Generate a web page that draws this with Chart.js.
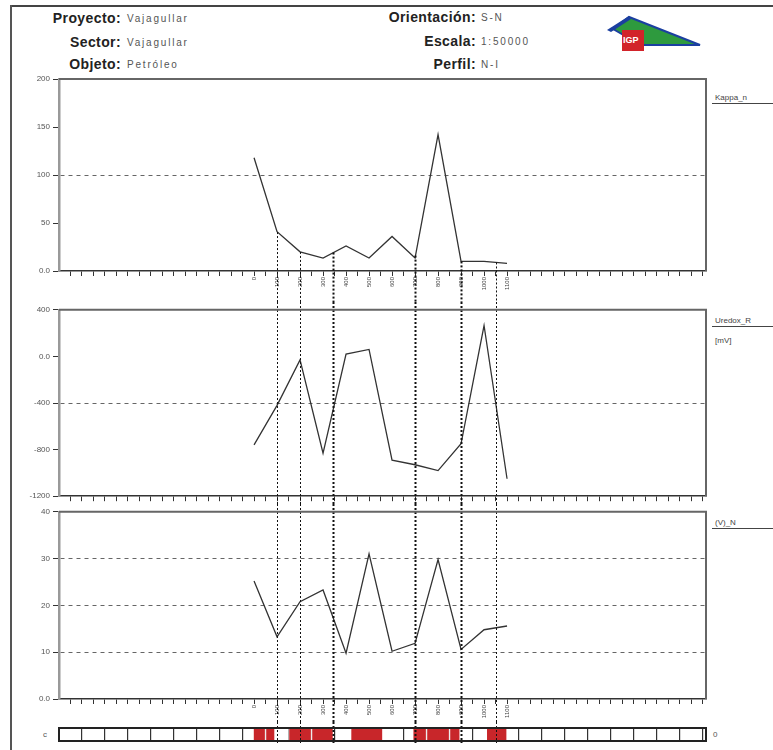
<!DOCTYPE html>
<html>
<head>
<meta charset="utf-8">
<script src="https://cdn.jsdelivr.net/npm/chart.js@4"></script>
<style>
  body { margin: 0; background: #fff; width: 773px; height: 750px; overflow: hidden; position: relative;
         font-family: "Liberation Sans", Arial, sans-serif; }
  canvas { position: absolute; left: 0; }
  .lab { position: absolute; font-weight: bold; font-size: 14px; color: #222; text-align: right; letter-spacing: 0.4px; line-height: 16px; }
  .val { position: absolute; font-size: 10px; color: #555; letter-spacing: 1.8px; line-height: 12px; }
  .side { position: absolute; left: 712px; width: 58px; font-size: 8px; color: #444; padding-left: 3px; line-height: 10px; }
  .ul { border-bottom: 1px solid #444; }
  .edge-top { position: absolute; left: 11px; top: 5px; width: 762px; height: 0; border-top: 2px solid #444; }
  .edge-left { position: absolute; left: 10px; top: 5px; width: 0; height: 745px; border-left: 2px solid #555; }
</style>
</head>
<body>
<div class="edge-top"></div>
<div class="edge-left"></div>

<div class="lab" style="left:0;width:121px;top:10px">Proyecto:</div>
<div class="val" style="left:127px;top:13px">Vajagullar</div>
<div class="lab" style="left:0;width:121px;top:34px">Sector:</div>
<div class="val" style="left:127px;top:37px">Vajagullar</div>
<div class="lab" style="left:0;width:121px;top:56px">Objeto:</div>
<div class="val" style="left:127px;top:59px">Petróleo</div>

<div class="lab" style="left:280px;width:196px;top:9px">Orientación:</div>
<div class="val" style="left:481px;top:12px">S-N</div>
<div class="lab" style="left:280px;width:196px;top:33px">Escala:</div>
<div class="val" style="left:481px;top:36px">1:50000</div>
<div class="lab" style="left:280px;width:196px;top:56px">Perfil:</div>
<div class="val" style="left:481px;top:59px">N-I</div>

<svg style="position:absolute;left:605px;top:10px" width="100" height="45" viewBox="0 0 100 45">
  <polygon points="8,19 24,7 95,35 36,35" fill="#2e9a3e" stroke="#1b3fa0" stroke-width="2"/>
  <polygon points="2,20 24,6 26,9 6,22" fill="#1b3fa0"/>
  <rect x="17" y="20" width="22" height="21" fill="#d2232a"/>
  <text x="18" y="33" font-size="9" font-weight="bold" fill="#fff" font-family="Liberation Sans">IGP</text>
</svg>

<div class="side ul" style="top:93px">Kappa_n</div>
<div class="side ul" style="top:316px">Uredox_R</div>
<div class="side" style="top:336px">[mV]</div>
<div class="side ul" style="top:518px">(V)_N</div>

<div class="val" style="left:43px;top:729px;font-size:8px">c</div>
<div class="val" style="left:713px;top:729px;font-size:8px">0</div>

<canvas id="c1" width="773" height="232" style="top:70px"></canvas>
<canvas id="c2" width="773" height="202" style="top:302px"></canvas>
<canvas id="c3" width="773" height="218" style="top:504px"></canvas>
<canvas id="c4" width="773" height="28" style="top:722px"></canvas>

<script>
// stations along the profile
const stations = ['0', '100', '200', '300', '400', '500', '600', '700', '800', '900', '1000', '1100']
const stationPos = [0, 1, 2, 3, 4, 5, 6, 7, 8, 9, 10, 11]

// series
const kappa = [118, 41, 20, 13.5, 26, 13.5, 36, 13.5, 142, 10, 10, 8]
const uredox = [-760, -420, -30, -830, 20, 60, -890, -930, -980, -750, 265, -1050]
const vn = [25.2, 13.3, 20.8, 23.3, 9.8, 31, 10.2, 11.9, 29.8, 10.6, 14.8, 15.6]

// y ticks per panel
const kappaTicks = [0, 50, 100, 150, 200]
const kappaLabels = ['0.0', '50', '100', '150', '200']
const uredoxTicks = [-1200, -800, -400, 0, 400]
const uredoxLabels = ['-1200', '-800', '-400', '0.0', '400']
const vnTicks = [0, 10, 20, 30, 40]
const vnLabels = ['0.0', '10', '20', '30', '40']

// anomaly markers and zones (station units)
const markerPos = [1, 2, 3.45, 7, 9, 10.5]
const redZones = [[-0.04, 0.5], [0.5, 0.91], [1.5, 2.5], [2.5, 3.45], [4.2, 5.6],
  [6.9, 7.5], [7.5, 8.5], [8.5, 8.96], [10.1, 11]]

const X_MIN = -8.48
const X_MAX = 19.65
const markerWidth = [1, 1, 2, 2, 2, 1]

const xTickVals = []
for (let v = -8; v <= 19.5; v += 0.5) xTickVals.push(v)
const cellVals = []
for (let v = -8.5; v <= 19.5; v += 1) cellVals.push(v)

const markerPlugin = {
  id: 'markers',
  afterDatasetsDraw(chart, args, opts) {
    if (!opts.show) return
    const { ctx } = chart
    const meta = chart.getDatasetMeta(0)
    ctx.save()
    markerPos.forEach((m, i) => {
      const px = Math.round(chart.scales.x.getPixelForValue(m)) + 0.5
      let top = 0
      if (opts.fromLine) {
        const pts = meta.data
        for (let k = 0; k < pts.length - 1; k++) {
          if (pts[k].x <= px && pts[k + 1].x >= px) {
            const t = (px - pts[k].x) / (pts[k + 1].x - pts[k].x)
            top = pts[k].y + t * (pts[k + 1].y - pts[k].y)
          }
        }
      }
      const bottom = opts.bottom ? chart.chartArea.bottom + 2 : chart.height
      ctx.lineWidth = markerWidth[i]
      ctx.setLineDash([2, 2])
      ctx.strokeStyle = '#111'
      ctx.beginPath()
      ctx.moveTo(px, top)
      ctx.lineTo(px, bottom)
      ctx.stroke()
    })
    ctx.restore()
  }
}

const framePlugin = {
  id: 'frame',
  afterDraw(chart, args, opts) {
    if (!opts.show) return
    const { ctx, chartArea: a } = chart
    ctx.save()
    ctx.strokeStyle = opts.color || '#555'
    ctx.lineWidth = opts.width || 2
    ctx.beginPath()
    if (opts.box) {
      ctx.rect(a.left, a.top, a.right - a.left, a.bottom - a.top)
    } else {
      ctx.moveTo(a.left, a.top)
      ctx.lineTo(a.right, a.top)
      ctx.lineTo(a.right, a.bottom)
    }
    ctx.stroke()
    ctx.restore()
  }
}

Chart.register(markerPlugin, framePlugin)

function makePanel(id, values, yTicks, yLabels, dashed, cfg) {
  const ctx = document.getElementById(id)
  return new Chart(ctx, {
    type: 'line',
    data: {
      datasets: [{
        data: stationPos.map((x, i) => ({ x: x, y: values[i] })),
        borderColor: '#333',
        borderWidth: 1.3,
        pointRadius: 0,
        tension: 0
      }]
    },
    options: {
      responsive: false,
      animation: false,
      layout: { padding: { left: 0, right: 67, top: cfg.padTop, bottom: 0 } },
      plugins: {
        legend: { display: false },
        tooltip: { enabled: false },
        markers: { show: true, fromLine: cfg.fromLine },
        frame: { show: true, color: '#666', width: 2 }
      },
      scales: {
        x: {
          type: 'linear',
          min: X_MIN,
          max: X_MAX,
          afterBuildTicks: axis => { axis.ticks = xTickVals.map(v => ({ value: v })) },
          afterFit: axis => { axis.height = cfg.xHeight },
          grid: { drawOnChartArea: false, tickLength: 5, tickColor: '#333', tickWidth: 1 },
          border: { color: '#333', width: 1.5 },
          ticks: {
            display: cfg.labels,
            autoSkip: false,
            minRotation: 90,
            maxRotation: 90,
            padding: 1,
            font: { size: 6, family: 'Liberation Sans' },
            color: '#444',
            callback: value => {
              const i = stationPos.indexOf(value)
              return i >= 0 ? stations[i] : ''
            }
          }
        },
        y: {
          min: yTicks[0],
          max: yTicks[yTicks.length - 1],
          afterBuildTicks: axis => { axis.ticks = yTicks.map(v => ({ value: v })) },
          afterFit: axis => { axis.width = 59 },
          grid: {
            color: c => dashed.includes(c.tick.value) ? '#666' : 'rgba(0,0,0,0)',
            tickColor: '#333',
            tickLength: 6,
            lineWidth: 1
          },
          border: { color: '#999', width: 2.5, dash: [4, 4] },
          ticks: {
            padding: 3,
            font: { size: 8, family: 'Liberation Sans' },
            color: '#555',
            callback: value => {
              const i = yTicks.indexOf(value)
              return i >= 0 ? yLabels[i] : ''
            }
          }
        }
      }
    }
  })
}

makePanel('c1', kappa, kappaTicks, kappaLabels, [100], { padTop: 9, xHeight: 31, labels: true, fromLine: true })
makePanel('c2', uredox, uredoxTicks, uredoxLabels, [-400], { padTop: 5, xHeight: 4, labels: false, fromLine: false })
makePanel('c3', vn, vnTicks, vnLabels, [10, 20, 30], { padTop: 3, xHeight: 23, labels: true, fromLine: false })

// anomaly strip
new Chart(document.getElementById('c4'), {
  type: 'bar',
  data: {
    labels: ['zona'],
    datasets: [{
      data: redZones.map(z => ({ x: z, y: 'zona' })),
      backgroundColor: '#c8262a',
      borderColor: '#fff',
      borderWidth: { left: 1, right: 1, top: 0, bottom: 0 },
      borderSkipped: false,
      barPercentage: 1,
      categoryPercentage: 1
    }]
  },
  options: {
    indexAxis: 'y',
    responsive: false,
    animation: false,
    layout: { padding: { left: 59, right: 67, top: 6, bottom: 9 } },
    plugins: {
      legend: { display: false },
      tooltip: { enabled: false },
      markers: { show: true, fromLine: false, bottom: true },
      frame: { show: true, box: true, color: '#222', width: 2 }
    },
    scales: {
      x: {
        type: 'linear',
        min: X_MIN,
        max: X_MAX,
        afterBuildTicks: axis => { axis.ticks = cellVals.map(v => ({ value: v })) },
        afterFit: axis => { axis.height = 0 },
        grid: { color: '#333', lineWidth: 1.2, drawTicks: false },
        border: { display: false },
        ticks: { display: false }
      },
      y: { display: false }
    }
  }
})
</script>
</body>
</html>
